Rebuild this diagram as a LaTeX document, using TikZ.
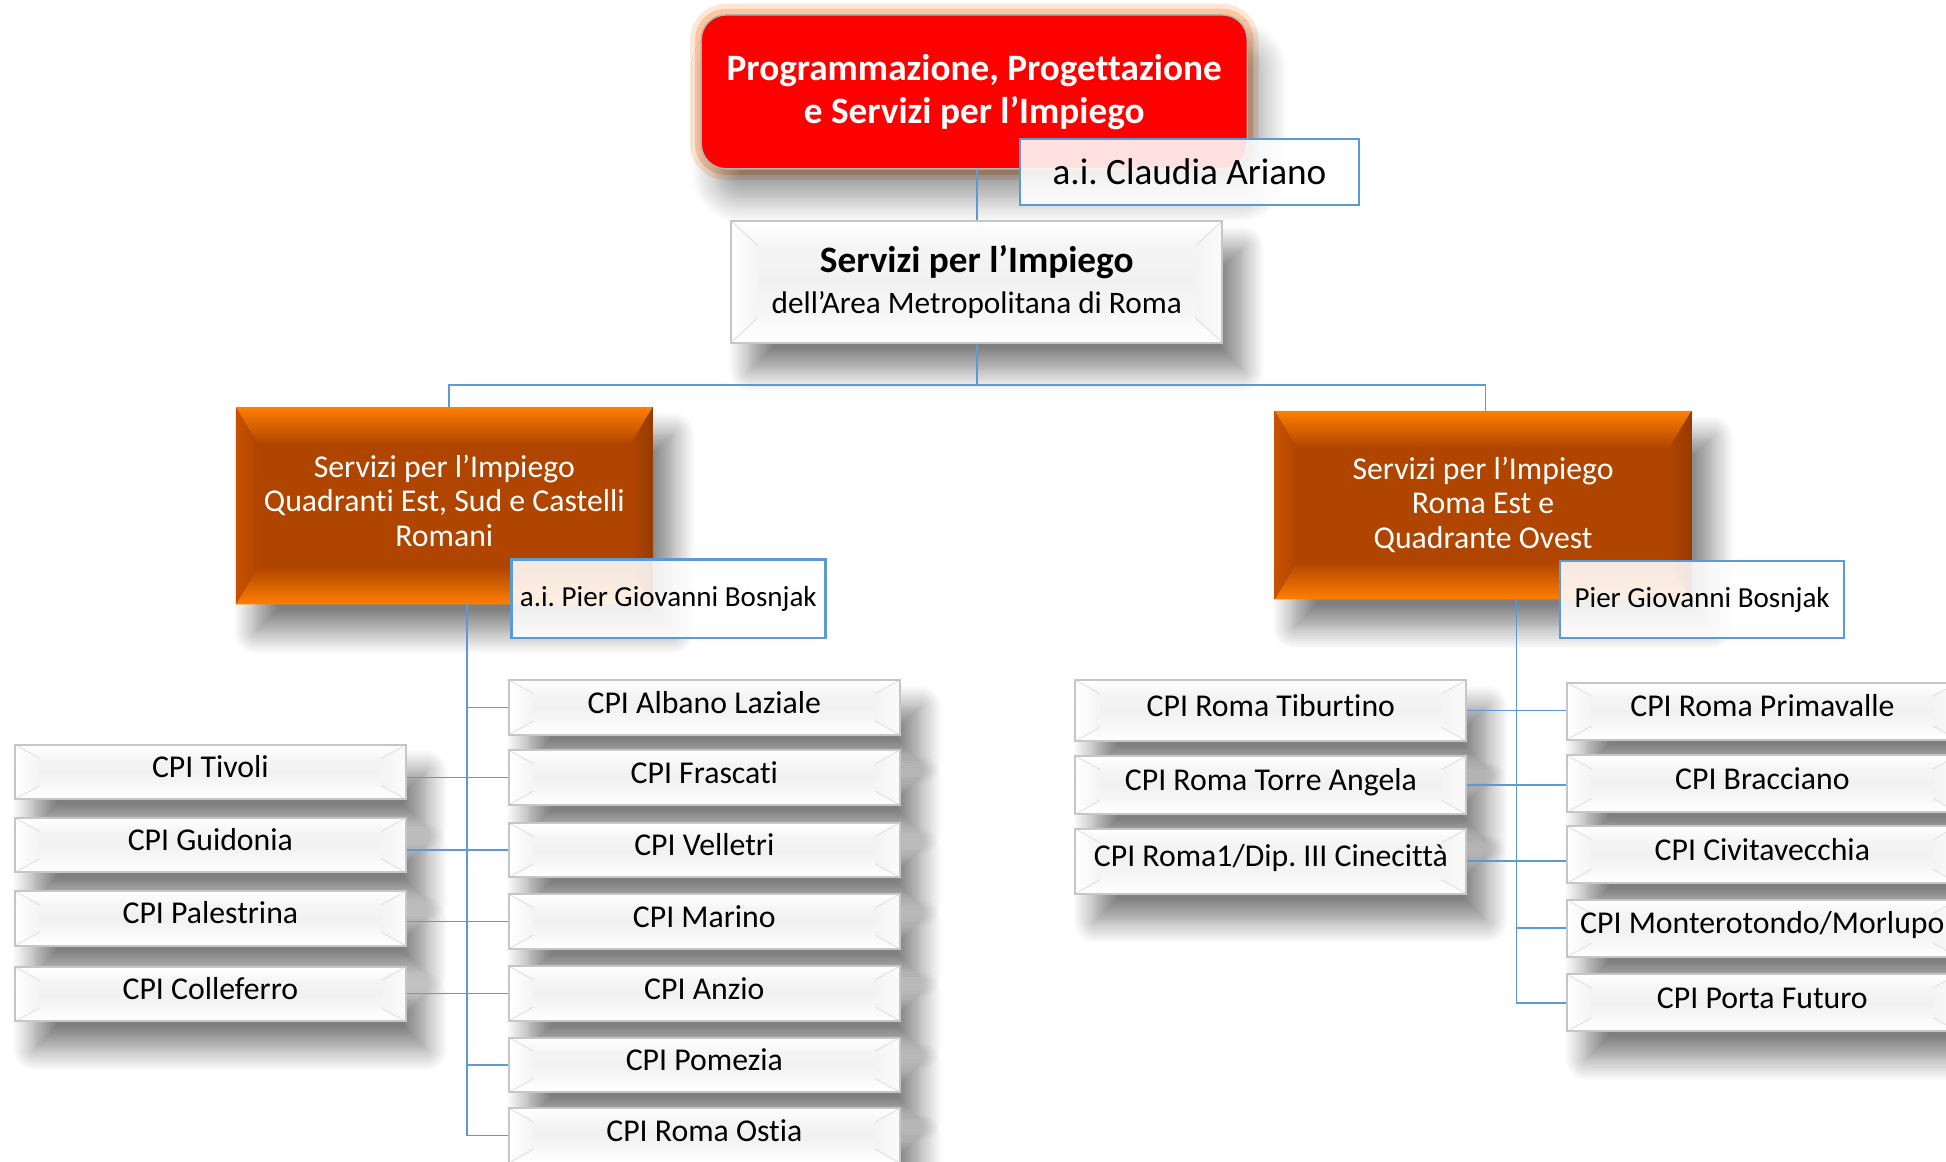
\documentclass[tikz,border=0pt]{standalone}
\usepackage{fontspec}
\setmainfont{Carlito}[Ligatures=CommonOff]
\frenchspacing
\usetikzlibrary{calc,shadows.blur}
\definecolor{conn}{HTML}{5B9BD5}
\definecolor{orEdge}{HTML}{FF7F00}
\definecolor{orIn}{HTML}{B04500}
\definecolor{orMid}{HTML}{C85200}
\definecolor{redbox}{HTML}{FF0000}
\definecolor{glow}{HTML}{F8A060}
\tikzset{
  bevelgray/.style 2 args={path picture={
    \path (path picture bounding box.north west) coordinate (bvnw)
          (path picture bounding box.north east) coordinate (bvne)
          (path picture bounding box.south west) coordinate (bvsw)
          (path picture bounding box.south east) coordinate (bvse);
    \path ($(bvnw)+(#1,-#2)$) coordinate (bvinw) ($(bvne)+(-#1,-#2)$) coordinate (bvine)
          ($(bvsw)+(#1,#2)$) coordinate (bvisw) ($(bvse)+(-#1,#2)$) coordinate (bvise);
    \fill[white] (bvnw) rectangle (bvse);
    \shade[top color=white, bottom color=gray!7] (bvnw)--(bvne)--(bvine)--(bvinw)--cycle;
    \shade[top color=gray!5, bottom color=white] (bvisw)--(bvise)--(bvse)--(bvsw)--cycle;
    \shade[left color=white, right color=gray!9] (bvnw)--(bvinw)--(bvisw)--(bvsw)--cycle;
    \shade[left color=gray!9, right color=gray!3] (bvne)--(bvine)--(bvise)--(bvse)--cycle;
    \shade[top color=gray!8, bottom color=gray!6, middle color=gray!11] (bvinw) rectangle (bvise);
    \draw[gray!22, line width=0.4pt] (bvnw)--(bvinw) (bvne)--(bvine) (bvsw)--(bvisw) (bvse)--(bvise);
  }},
  bevelorange/.style 2 args={path picture={
    \path (path picture bounding box.north west) coordinate (bvnw)
          (path picture bounding box.north east) coordinate (bvne)
          (path picture bounding box.south west) coordinate (bvsw)
          (path picture bounding box.south east) coordinate (bvse);
    \path ($(bvnw)+(#1,-#2)$) coordinate (bvinw) ($(bvne)+(-#1,-#2)$) coordinate (bvine)
          ($(bvsw)+(#1,#2)$) coordinate (bvisw) ($(bvse)+(-#1,#2)$) coordinate (bvise);
    \fill[orIn] (bvnw) rectangle (bvse);
    \shade[top color=orEdge, bottom color=orIn] (bvnw)--(bvne)--(bvine)--(bvinw)--cycle;
    \shade[top color=orIn, bottom color=orEdge] (bvisw)--(bvise)--(bvse)--(bvsw)--cycle;
    \shade[left color=orMid, right color=orIn] (bvnw)--(bvinw)--(bvisw)--(bvsw)--cycle;
    \shade[left color=orIn, right color=orIn!85!black] (bvne)--(bvine)--(bvise)--(bvse)--cycle;
    \fill[orIn] (bvinw) rectangle (bvise);
  }},
  shad/.style={blur shadow={shadow xshift=8pt, shadow yshift=-11pt, shadow blur radius=9pt,
    shadow blur steps=14, shadow opacity=50}},
  cpi/.style={shad, draw=gray!45, line width=0.8pt, bevelgray={10pt}{5.5pt},
    minimum width=157.5pt, minimum height=22pt, inner sep=0pt,
    text height=9pt, text depth=4.5pt,
    font=\fontsize{12.8}{14}\selectfont, text=black},
  orangebox/.style={shad, bevelorange={9pt}{15pt}, inner sep=0pt,
    minimum width=168pt, align=center, text=white,
    font=\fontsize{12.8}{14}\selectfont},
  namebox/.style={draw=conn, line width=1pt, fill=white, fill opacity=0.88, text opacity=1,
    inner sep=0pt, text=black},
  conn/.style={draw=conn, line width=0.7pt},
}
\begin{document}
\begin{tikzpicture}[x=0.5pt,y=-0.5pt]
\useasboundingbox (0,0) rectangle (1568,936);
\clip (0,0) rectangle (1568,936);

% top red box
\node[minimum width=220pt, minimum height=62pt, rounded corners=10pt,
  fill=redbox, draw=gray!60, line width=0.6pt,
  preaction={draw=glow, line width=9pt, opacity=0.25},
  preaction={draw=glow, line width=5pt, opacity=0.45},
  blur shadow={shadow xshift=6pt, shadow yshift=-12pt, shadow blur radius=10pt,
    shadow blur steps=14, shadow opacity=40},
  text=white, align=center, font=\bfseries\fontsize{15}{17.5}\selectfont]
  (red) at (785,74) {Programmazione, Progettazione\\e Servizi per l’Impiego};
\node[namebox, minimum width=136.5pt, minimum height=26.5pt, font=\fontsize{15}{17}\selectfont]
  (claudia) at (958.5,138.5) {a.i. Claudia Ariano};

% Servizi box
\node[shad, draw=gray!45, line width=0.8pt, bevelgray={11pt}{10pt},
  minimum width=198pt, minimum height=49pt, inner sep=0pt, align=center,
  font=\fontsize{12.6}{16.5}\selectfont]
  (serv) at (787,227) {{\bfseries\fontsize{15}{16.5}\selectfont Servizi per l’Impiego}\\
  dell’Area Metropolitana di Roma};

% orange boxes
\node[orangebox, minimum height=79.5pt, text depth=4pt] (lo) at (358,407.5)
  {Servizi per l’Impiego\\Quadranti Est, Sud e Castelli\\Romani};
\node[orangebox, minimum height=76pt, text depth=2pt] (ro) at (1195,407)
  {Servizi per l’Impiego\\Roma Est e\\Quadrante Ovest};

% connectors top
\coordinate (hub) at (787,310);
\draw[conn] (serv.north |- red.south) -- (serv.north);
\draw[conn] (serv.south) -- (hub);
\draw[conn] (362,328) |- (hub) -| (1197,331);

% left group
\node[cpi] (albano) at (567.5,570) {CPI Albano Laziale};
\node[cpi] (frascati) at (567.5,626.5) {CPI Frascati};
\node[cpi] (velletri) at (567.5,685) {CPI Velletri};
\node[cpi] (marino) at (567.5,742.5) {CPI Marino};
\node[cpi] (anzio) at (567.5,800.5) {CPI Anzio};
\node[cpi] (pomezia) at (567.5,858) {CPI Pomezia};
\node[cpi] (ostia) at (567.5,915) {CPI Roma Ostia};
\node[cpi] (tivoli) at (169.5,622) {CPI Tivoli};
\node[cpi] (guidonia) at (169.5,681) {CPI Guidonia};
\node[cpi] (palestrina) at (169.5,740) {CPI Palestrina};
\node[cpi] (colleferro) at (169.5,801) {CPI Colleferro};

\coordinate (lt) at (376,487);
\draw[conn] (lt) |- (ostia.west);
\draw[conn] (albano.west -| lt) -- (albano.west);
\draw[conn] (pomezia.west -| lt) -- (pomezia.west);
\draw[conn] (tivoli.east |- frascati.west) -- (frascati.west);
\draw[conn] (guidonia.east |- velletri.west) -- (velletri.west);
\draw[conn] (palestrina.east |- marino.west) -- (marino.west);
\draw[conn] (colleferro.east |- anzio.west) -- (anzio.west);

% right group
\node[cpi, minimum height=24.5pt] (tib) at (1024,572.5) {CPI Roma Tiburtino};
\node[cpi, minimum height=23.5pt] (torre) at (1024,632.5) {CPI Roma Torre Angela};
\node[cpi, minimum height=26pt] (cine) at (1024,694) {CPI Roma1/Dip. III Cinecittà};
\node[cpi, minimum height=23pt] (prim) at (1420,573) {CPI Roma Primavalle};
\node[cpi, minimum height=23pt] (brac) at (1420,631.5) {CPI Bracciano};
\node[cpi, minimum height=23pt] (civi) at (1420,688.5) {CPI Civitavecchia};
\node[cpi, minimum height=23pt] (monte) at (1420,748) {CPI Monterotondo/Morlupo};
\node[cpi, minimum height=23pt] (porta) at (1420,808) {CPI Porta Futuro};

\coordinate (rt) at (1222,483);
\draw[conn] (rt) |- (porta.west);
\draw[conn] (monte.west -| rt) -- (monte.west);
\draw[conn] (tib.east) -- (tib.east -| prim.west);
\draw[conn] (torre.east) -- (torre.east -| brac.west);
\draw[conn] (cine.east) -- (cine.east -| civi.west);

% name boxes
\node[namebox, minimum width=126.5pt, minimum height=31.5pt, font=\fontsize{11.7}{13}\selectfont]
  (bosl) at (538.5,482.5) {a.i. Pier Giovanni Bosnjak};
\node[namebox, minimum width=114.5pt, minimum height=31pt, font=\fontsize{11.7}{13}\selectfont]
  (bosr) at (1371.5,483) {Pier Giovanni Bosnjak};
\end{tikzpicture}
\end{document}
